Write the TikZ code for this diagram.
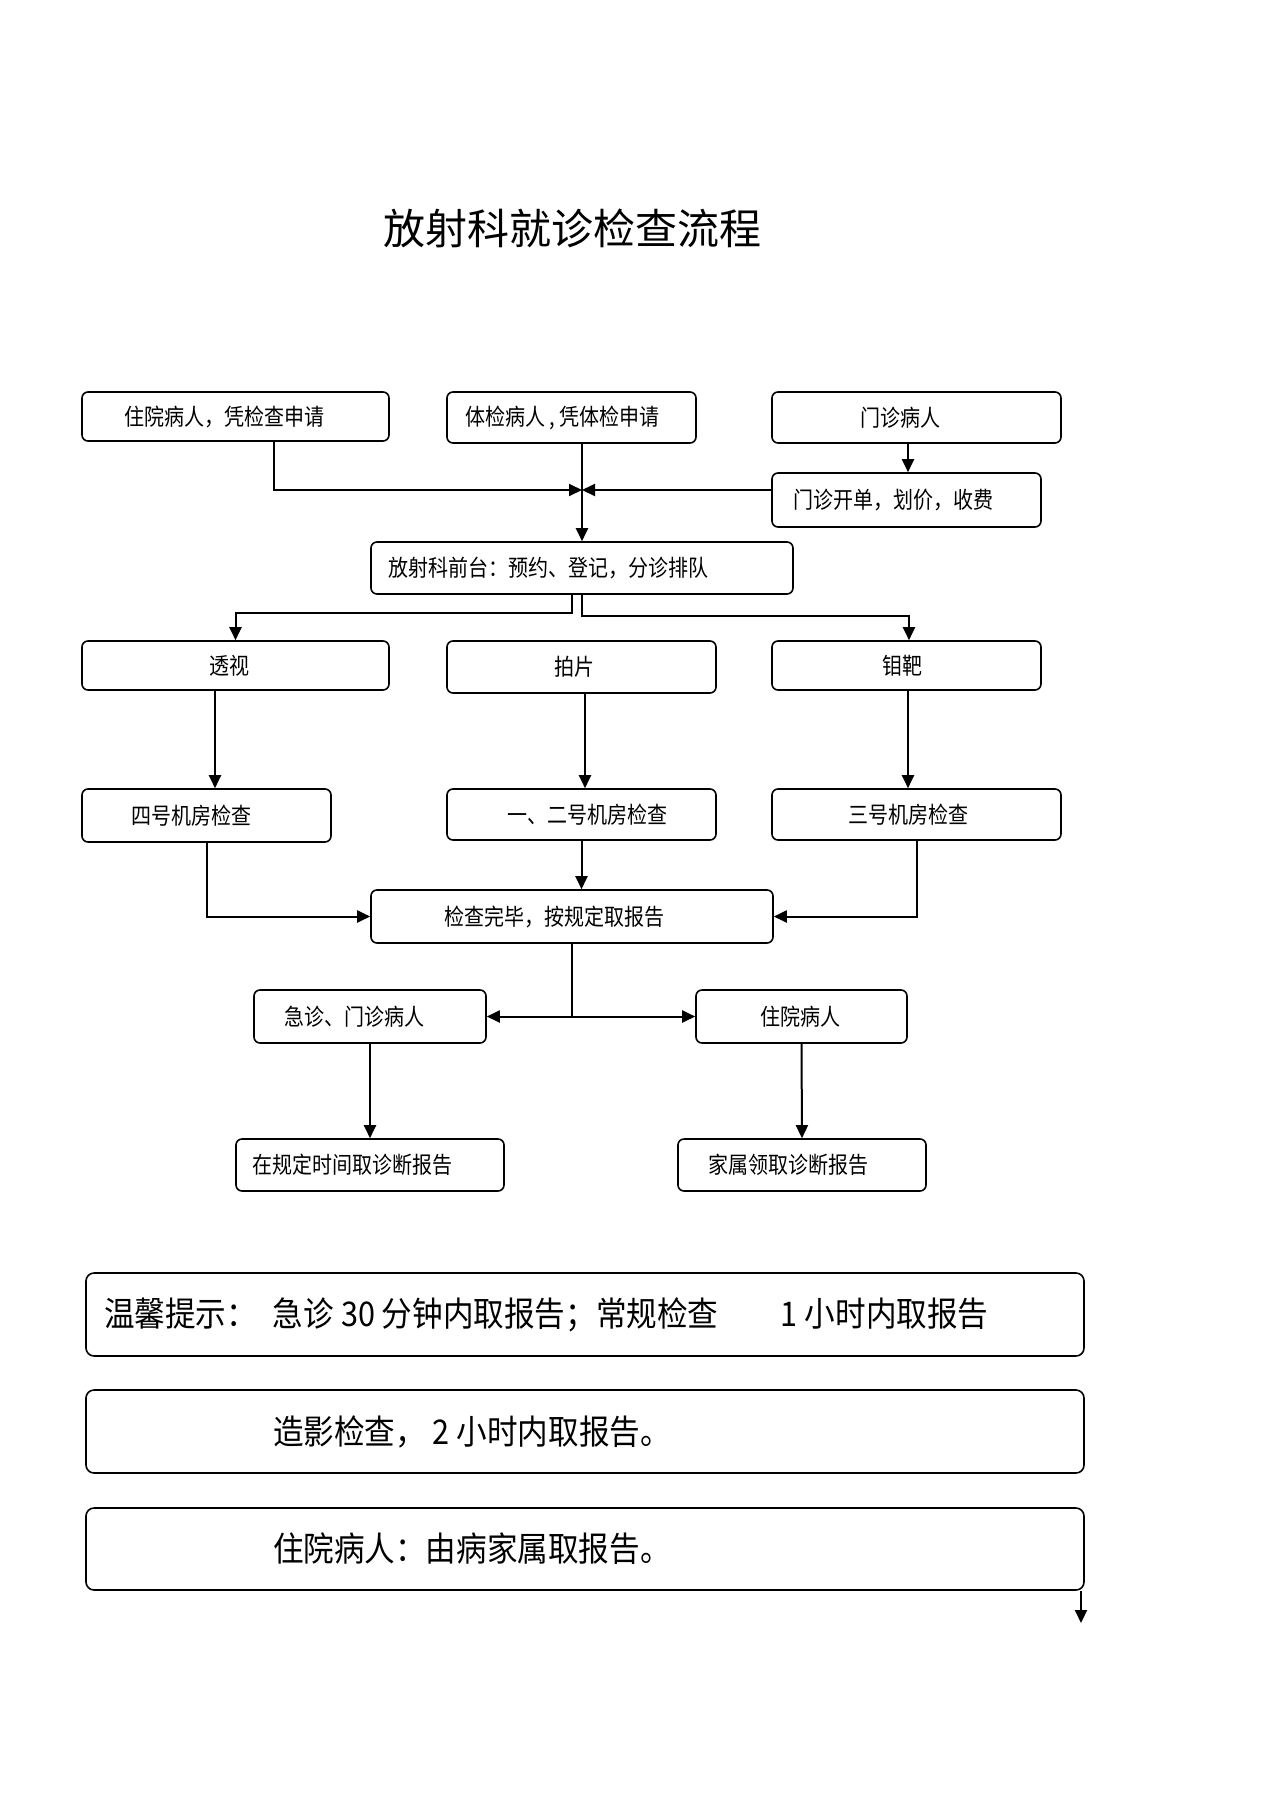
\documentclass[tikz,border=0pt]{standalone}
\usepackage{fontspec}
\newfontfamily\cjk{Noto Sans CJK SC}[FakeStretch=0.87]
\newfontfamily\cjkb{Noto Sans CJK SC}[FakeStretch=0.9]
\newfontfamily\cjkt{Noto Sans CJK SC}
\usetikzlibrary{arrows.meta,calc}
\newcommand\bxt[3]{\makebox[#1pt][l]{\hspace*{#2pt}#3}}
\begin{document}
\begin{tikzpicture}[x=1pt,y=-1pt,
  bx/.style={draw, line width=1.6pt, rounded corners=6pt, inner sep=0pt, font=\cjk\fontsize{23}{27}\selectfont},
  big/.style={draw, line width=1.6pt, rounded corners=8pt, inner sep=0pt, font=\cjkb\fontsize{34}{40}\selectfont},
  arr/.style={line width=2pt, -{Triangle[length=13pt,width=12pt]}},
  ln/.style={line width=2pt}]
\useasboundingbox[fill=white] (0,0) rectangle (1274,1804);

\node[font=\cjkt\fontsize{42}{48}\selectfont] (title) at (572,228) {放射科就诊检查流程};

% row 1
\node[bx, minimum height=49pt] (A) at (235.5,416.5) {\bxt{307}{42}{住院病人，凭检查申请}};
\node[bx, minimum height=51pt] (B) at (571.5,417.5) {\bxt{249}{18}{体检病人 , 凭体检申请}};
\node[bx, minimum height=51pt] (C) at (916.5,417.5) {\bxt{289}{88}{门诊病人}};
\node[bx, minimum height=54pt] (D) at (906.5,500) {\bxt{269}{21}{门诊开单，划价，收费}};
\node[bx, minimum height=52pt] (E) at (582,568) {\bxt{422}{17}{放射科前台：预约、登记，分诊排队}};

% row 3
\node[bx, minimum height=49pt] (T1) at (235.5,665.5) {\bxt{307}{127}{透视}};
\node[bx, minimum height=52pt] (T2) at (581.5,667) {\bxt{269}{107}{拍片}};
\node[bx, minimum height=49pt] (T3) at (906.5,665.5) {\bxt{269}{110}{钼靶}};

% row 4
\node[bx, minimum height=53pt] (R1) at (206.5,815.5) {\bxt{249}{49}{四号机房检查}};
\node[bx, minimum height=51pt] (R2) at (581.5,814.5) {\bxt{269}{60}{一、二号机房检查}};
\node[bx, minimum height=51pt] (R3) at (916.5,814.5) {\bxt{289}{76}{三号机房检查}};

\node[bx, minimum height=53pt] (F) at (572,916.5) {\bxt{402}{73}{检查完毕，按规定取报告}};

\node[bx, minimum height=53pt] (G) at (370,1016.5) {\bxt{232}{30}{急诊、门诊病人}};
\node[bx, minimum height=53pt] (H) at (801.5,1016.5) {\bxt{211}{64}{住院病人}};

\node[bx, minimum height=52pt] (I) at (370,1165) {\bxt{268}{16}{在规定时间取诊断报告}};
\node[bx, minimum height=52pt] (J) at (802,1165) {\bxt{248}{30}{家属领取诊断报告}};

% bottom notes
\node[big, minimum height=83pt] (K) at (585,1314.5) {\bxt{998}{18}{\makebox[169pt][l]{温馨提示：}\makebox[508pt][l]{急诊 30 分钟内取报告；常规检查}1 小时内取报告}};
\node[big, minimum height=83pt] (L) at (585,1431.5) {\bxt{998}{187}{造影检查， 2 小时内取报告。}};
\node[big, minimum height=82pt] (M) at (585,1549) {\bxt{998}{187}{住院病人：由病家属取报告。}};

% connectors
\coordinate (j1) at (582,490);
\draw[arr] ([xshift=38.5pt]A.south) |- (j1);
\draw[arr] (D.west |- j1) -- (j1);
\draw[arr] (C.south -| 908,0) -- (D.north -| 908,0);
\draw[arr] (B.south -| E.north) -- (E.north);

\coordinate (e1) at (572,613);
\coordinate (e2) at (909,616);
\draw[arr] (E.south -| e1) -- (e1) -| (T1.north);
\draw[arr] (E.south) |- (e2) -- (e2 |- T3.north);

\draw[arr] ([xshift=-20.5pt]T1.south) -- ([xshift=-20.5pt]T1.south |- R1.north);
\draw[arr] ([xshift=3.5pt]T2.south) -- ([xshift=3.5pt]T2.south |- R2.north);
\draw[arr] ([xshift=1.5pt]T3.south) -- ([xshift=1.5pt]T3.south |- R3.north);

\draw[arr] (R1.south) |- (F.west);
\draw[arr] (R2.south) -- (R2.south |- F.north);
\draw[arr] (R3.south) |- (F.east);

\coordinate (j2) at (572,1016.5);
\draw[ln] (F.south) -- (j2);
\draw[arr] (j2) -- (G.east);
\draw[arr] (j2) -- (H.west);

\draw[arr] (G.south) -- (I.north);
\draw[arr] (H.south) -- (J.north);

\coordinate (mEnd) at (1081,1623);
\draw[arr] (M.south -| mEnd) -- (mEnd);
\end{tikzpicture}
\end{document}
